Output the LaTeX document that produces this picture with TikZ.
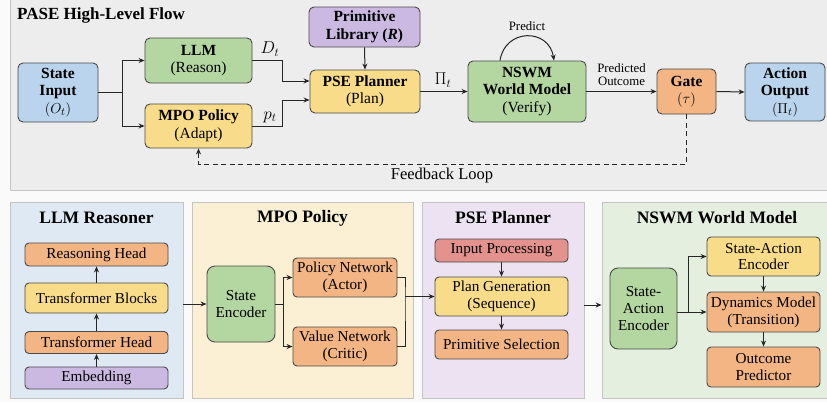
\documentclass[tikz,border=0pt]{standalone}
\usepackage{fontspec}
\setmainfont{Liberation Serif}
\usetikzlibrary{arrows.meta}
\definecolor{cblue}{HTML}{B9D4EC}
\definecolor{cgreen}{HTML}{B4D6A0}
\definecolor{cyellow}{HTML}{F8DC8A}
\definecolor{cpurple}{HTML}{CBB9E2}
\definecolor{corange}{HTML}{F2B583}
\definecolor{cred}{HTML}{E3928E}
\definecolor{pgray}{HTML}{EDEDED}
\definecolor{pborder}{HTML}{C4C4C4}
\definecolor{pblue}{HTML}{DEE9F4}
\definecolor{pyellow}{HTML}{FBF0D3}
\definecolor{ppurple}{HTML}{ECE2F1}
\definecolor{pgreen}{HTML}{E5EFDF}
\definecolor{linec}{HTML}{4A4A4A}
\begin{document}
\begin{tikzpicture}[x=1pt,y=-1pt,
  box/.style={draw=linec, rounded corners=5pt, line width=0.9pt, align=center, inner sep=1pt},
  topf/.style={font=\fontsize{15.5}{17.5}\selectfont},
  botf/.style={font=\fontsize{15.2}{16.8}\selectfont},
  panel/.style={draw=pborder, line width=0.8pt, inner sep=0pt},
  ptitle/.style={font=\fontsize{17.5}{20}\selectfont\bfseries},
  arr/.style={-{Stealth[length=6pt,width=5pt]}, line width=1pt, draw=black!85},
  lbl/.style={font=\fontsize{16.5}{18}\selectfont, inner sep=1pt},
  slbl/.style={font=\fontsize{12.8}{13.8}\selectfont, inner sep=1pt, align=center}
]
\fill[white!98!black] (0,0) rectangle (827,402);
\useasboundingbox (0,0) rectangle (827,402);
% top panel
\draw[fill=pgray, draw=pborder, line width=0.8pt] (10,-2) rectangle (830,190);
\node[anchor=west, font=\fontsize{17}{20}\selectfont\bfseries, inner sep=0pt] (ttl) at (17,15) {PASE High-Level Flow};

\node[box, topf, fill=cblue, minimum width=80pt, minimum height=59pt] (si) at (58,92.5) {\textbf{State}\\\textbf{Input}\\$(O_t)$};
\node[box, topf, fill=cgreen, minimum width=107pt, minimum height=45pt] (llm) at (198.5,60.5) {\textbf{LLM}\\(Reason)};
\node[box, topf, fill=cyellow, minimum width=107pt, minimum height=44pt] (mpo) at (198.5,126) {\textbf{MPO Policy}\\(Adapt)};
\node[box, topf, fill=cyellow, minimum width=110pt, minimum height=43pt] (pse) at (365,91.5) {\textbf{PSE Planner}\\(Plan)};
\node[box, topf, fill=cpurple, minimum width=111pt, minimum height=40pt] (lib) at (364.5,27) {\textbf{Primitive}\\\textbf{Library (\textit{R})}};
\node[box, topf, fill=cgreen, minimum width=118pt, minimum height=61pt] (nswm) at (527,91.5) {\textbf{NSWM}\\\textbf{World Model}\\(Verify)};
\node[box, topf, fill=corange, minimum width=59pt, minimum height=45pt] (gate) at (686.5,91.5) {\textbf{Gate}\\$(\tau)$};
\node[box, topf, fill=cblue, minimum width=80pt, minimum height=58pt] (act) at (785,92) {\textbf{Action}\\\textbf{Output}\\$(\Pi_t)$};

\coordinate (j1) at (122,92.5);
\draw[line width=1pt, draw=black!85] (si.east) -- (j1);
\draw[arr] (j1) |- (llm.west);
\draw[arr] (j1) |- (mpo.west);
\draw[arr] (llm.east) -| (282,81) -- (pse.west |- 0,81);
\draw[arr] (mpo.east) -| (282,100) -- (pse.west |- 0,100);
\node[lbl] (dt) at (270,49) {$D_t$};
\node[lbl] (pt) at (270,117) {$p_t$};
\draw[arr] (lib.south) -- (pse.north);
\draw[arr] (pse.east) -- (nswm.west);
\node[lbl] (pit) at (443,80) {$\Pi_t$};
\draw[arr] ([xshift=-27pt]nswm.north) .. controls (505,28) and (549,28) .. ([xshift=27pt]nswm.north);
\node[slbl] (pred) at (527,26) {Predict};
\draw[arr] (nswm.east) -- (gate.west);
\node[slbl] (po) at (621.5,75) {Predicted\\[-1pt]Outcome};
\draw[arr] (gate.east) -- (act.west);
\draw[arr, dashed, dash pattern=on 5pt off 3.5pt] (gate.south) -- (686.5,164) -| (mpo.south);
\node[lbl] (fb) at (442,176) {Feedback Loop};

% bottom panels
\node[panel, fill=pblue, minimum width=173pt, minimum height=196pt] (p1) at (96.5,300) {};
\node[panel, fill=pyellow, minimum width=221pt, minimum height=196pt] (p2) at (302.5,300) {};
\node[panel, fill=ppurple, minimum width=162pt, minimum height=196pt] (p3) at (503,300) {};
\node[panel, fill=pgreen, minimum width=228pt, minimum height=196pt] (p4) at (716,300) {};
\node[ptitle] (t1) at (96.5,218) {LLM Reasoner};
\node[ptitle] (t2) at (302.5,218) {MPO Policy};
\node[ptitle] (t3) at (503,218) {PSE Planner};
\node[ptitle] (t4) at (717,218) {NSWM World Model};

% LLM reasoner
\node[box, botf, fill=corange, minimum width=143pt, minimum height=23pt, rounded corners=4pt] (rh) at (96.5,254.5) {Reasoning Head};
\node[box, botf, fill=cyellow, minimum width=143pt, minimum height=30pt, rounded corners=4pt] (tb) at (96.5,298) {Transformer Blocks};
\node[box, botf, fill=corange, minimum width=143pt, minimum height=22pt, rounded corners=4pt] (th) at (96.5,342.5) {Transformer Head};
\node[box, botf, fill=cpurple, minimum width=143pt, minimum height=22pt, rounded corners=4pt] (emb) at (96.5,378) {Embedding};
\draw[arr] (emb) -- (th);
\draw[arr] (th) -- (tb);
\draw[arr] (tb) -- (rh);

% MPO
\node[box, botf, fill=cgreen, minimum width=68pt, minimum height=76pt, rounded corners=8pt] (se) at (241,304) {State\\Encoder};
\node[box, botf, fill=corange, minimum width=104pt, minimum height=39pt, rounded corners=4pt] (pn) at (345,277.5) {Policy Network\\(Actor)};
\node[box, botf, fill=corange, minimum width=104pt, minimum height=39pt, rounded corners=4pt] (vn) at (345,346.5) {Value Network\\(Critic)};
\draw[arr] (p1.east |- se.west) -- (se.west);
\coordinate (j2) at (283,304);
\draw[line width=1pt, draw=black!85] (se.east) -- (j2);
\draw[arr] (j2) |- (pn.west);
\draw[arr] (j2) |- (vn.west);
\coordinate (j3) at (405,296.5);
\draw[line width=1pt, draw=black!85] (pn.east) -| (j3) |- (vn.east);

% PSE
\node[box, botf, fill=cred, minimum width=133pt, minimum height=23pt, rounded corners=4pt] (ip) at (501.5,250.5) {Input Processing};
\node[box, botf, fill=cyellow, minimum width=133pt, minimum height=39pt, rounded corners=4pt] (pg) at (501.5,296.5) {Plan Generation\\(Sequence)};
\node[box, botf, fill=corange, minimum width=133pt, minimum height=29pt, rounded corners=4pt] (ps) at (501.5,344.5) {Primitive Selection};
\draw[arr] (j3) -- (pg.west);
\draw[arr] (ip) -- (pg);
\draw[arr] (pg) -- (ps);

% NSWM
\draw[arr] (p3.east |- 0,305) -- (p4.west |- 0,305);
\node[box, botf, fill=cgreen, minimum width=67pt, minimum height=81pt, rounded corners=8pt] (sae) at (643.5,308.5) {State-\\Action\\Encoder};
\node[box, botf, fill=cyellow, minimum width=113pt, minimum height=39pt, rounded corners=4pt] (sae2) at (763.5,256.5) {State-Action\\Encoder};
\node[box, botf, fill=corange, minimum width=113pt, minimum height=40pt, rounded corners=4pt] (dm) at (763.5,312) {Dynamics Model\\(Transition)};
\node[box, botf, fill=corange, minimum width=113pt, minimum height=40pt, rounded corners=4pt] (op) at (763.5,367) {Outcome\\Predictor};
\draw[arr] (sae.east |- dm.west) -- (dm.west);
\draw[arr] (688,312) |- (sae2.west);
\draw[arr] (sae2) -- (dm);
\draw[arr] (dm) -- (op);
\end{tikzpicture}
\end{document}
